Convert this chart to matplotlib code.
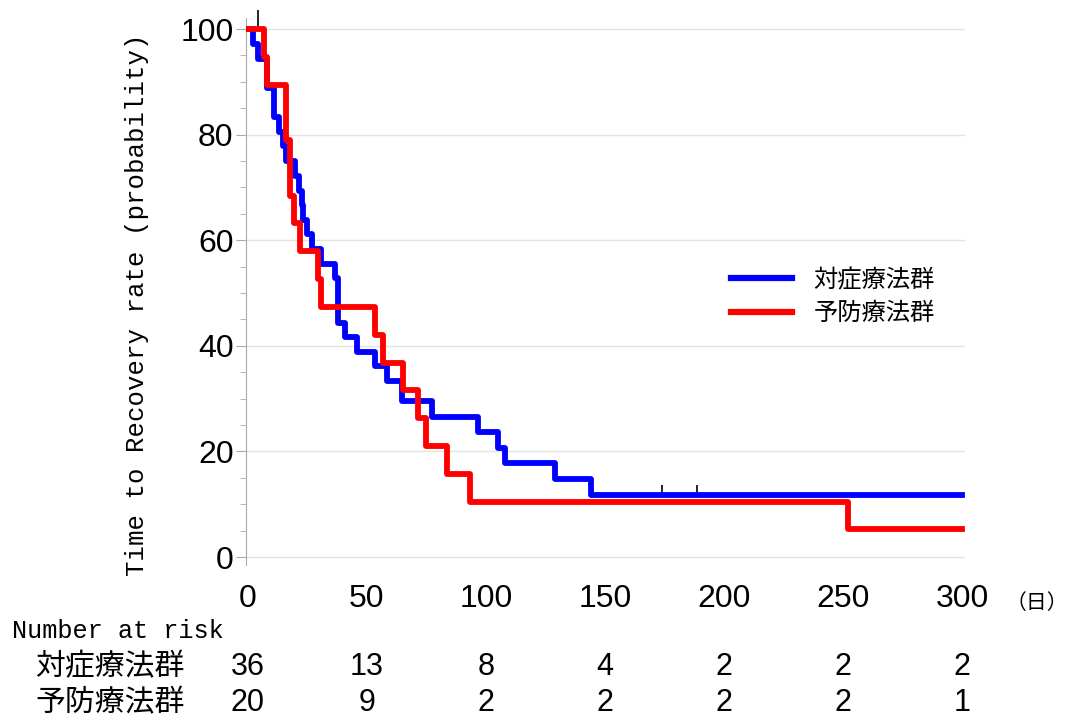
import matplotlib.pyplot as plt
from matplotlib.transforms import blended_transform_factory

# step data (days, percent)
blue_t = [0, 2, 4, 8, 11, 13, 14.5, 16, 19.7, 21.5, 22.5, 23.2, 25, 26.7, 30.7, 36.5, 37.7,
          40.8, 45.7, 53.4, 58.3, 64.6, 77.2, 96.7, 105, 108, 129, 144, 300]
blue_s = [100, 97.2, 94.4, 88.9, 83.3, 80.6, 77.8, 75.0, 72.2, 69.4, 66.7, 63.9, 61.1, 58.3, 55.6,
          52.8, 44.4, 41.7, 38.9, 36.1, 33.3, 29.6, 26.6, 23.7, 20.7, 17.8, 14.8, 11.8, 11.8]
red_t = [0, 6.7, 8.1, 15.8, 17.6, 19.3, 21.8, 29.4, 30.7, 53.4, 56.7, 65, 71.5, 75, 83.5, 93.3, 252, 300]
red_s = [100, 94.7, 89.5, 78.9, 68.4, 63.2, 57.9, 52.6, 47.4, 42.1, 36.8, 31.6, 26.3, 21.1, 15.8,
         10.5, 5.3, 5.3]

# censor marks
blue_cens_t = [174, 188.5]
blue_cens_s = [11.8, 11.8]
top_cens_t = [4.2]
top_cens_s = [100]

groups = ['対症療法群', '予防療法群']
risk_times = [0, 50, 100, 150, 200, 250, 300]
risk_blue = [36, 13, 8, 4, 2, 2, 2]
risk_red = [20, 9, 2, 2, 2, 2, 1]

jp = ['Noto Sans CJK JP', 'DejaVu Sans']
mono = 'Liberation Mono'
num = 'Liberation Sans'

fig = plt.figure(figsize=(10.73, 7.21), dpi=100)
ax = fig.add_axes([246 / 1073, 1 - 565 / 721, 719 / 1073, 547 / 721])

ax.step(blue_t, blue_s, where='post', color='#0000ff', lw=4.2, label=groups[0], zorder=3)
ax.step(red_t, red_s, where='post', color='#ff0000', lw=4.2, label=groups[1], zorder=4)
ax.plot(blue_cens_t, blue_cens_s, ls='none', marker=2, ms=7, mew=1.2, color='black', zorder=2)
ax.plot(top_cens_t, top_cens_s, ls='none', marker=2, ms=14, mew=1.2, color='black', zorder=2,
        clip_on=False)

ax.set_xlim(-0.84, 301.3)
ax.set_ylim(-1.5, 102.1)
ax.set_xticks(risk_times)
ax.set_yticks([0, 20, 40, 60, 80, 100])
ax.set_yticks(range(0, 101, 5), minor=True)
ax.grid(axis='y', color='#e4e4e4', lw=1)
ax.set_axisbelow(True)

for s in ['top', 'right', 'bottom']:
    ax.spines[s].set_visible(False)
ax.spines['left'].set_color('#aaaaaa')
ax.tick_params(axis='y', which='major', length=7, color='#aaaaaa', pad=2, labelsize=23)
ax.tick_params(axis='y', which='minor', length=4, color='#aaaaaa')
ax.tick_params(axis='x', length=0, pad=14, labelsize=23)
for lab in ax.get_xticklabels() + ax.get_yticklabels():
    lab.set_fontfamily(num)

fig.text(137 / 1073, 1 - 305 / 721, 'Time to Recovery rate (probability)', rotation=90,
         ha='center', va='center', fontsize=18.5, family=mono)

leg = ax.legend(loc='upper left', bbox_to_anchor=(731 / 1073, 1 - 267 / 721),
                bbox_transform=fig.transFigure, frameon=False, borderpad=0, borderaxespad=0,
                handlelength=2.5, handletextpad=0.9, labelspacing=0.3,
                prop={'family': jp, 'size': 17.5})
for h in leg.get_lines():
    h.set_linewidth(4.5)

fig.text(1037 / 1073, 1 - 603 / 721, '（日）', ha='center', va='center', fontsize=15, family=jp)

# number at risk table
fig.text(12 / 1073, 1 - 631 / 721, 'Number at risk', ha='left', va='center', fontsize=18.2,
         family=mono)
fig.text(35 / 1073, 1 - 667 / 721, groups[0], ha='left', va='center', fontsize=21.5, family=jp)
fig.text(35 / 1073, 1 - 703 / 721, groups[1], ha='left', va='center', fontsize=21.5, family=jp)
tr = blended_transform_factory(ax.transData, fig.transFigure)
for t, a, b in zip(risk_times, risk_blue, risk_red):
    ax.text(t, 1 - 667 / 721, str(a), transform=tr, ha='center', va='center', fontsize=22,
            family=num)
    ax.text(t, 1 - 703 / 721, str(b), transform=tr, ha='center', va='center', fontsize=22,
            family=num)

fig.savefig('out.png', dpi=100)
